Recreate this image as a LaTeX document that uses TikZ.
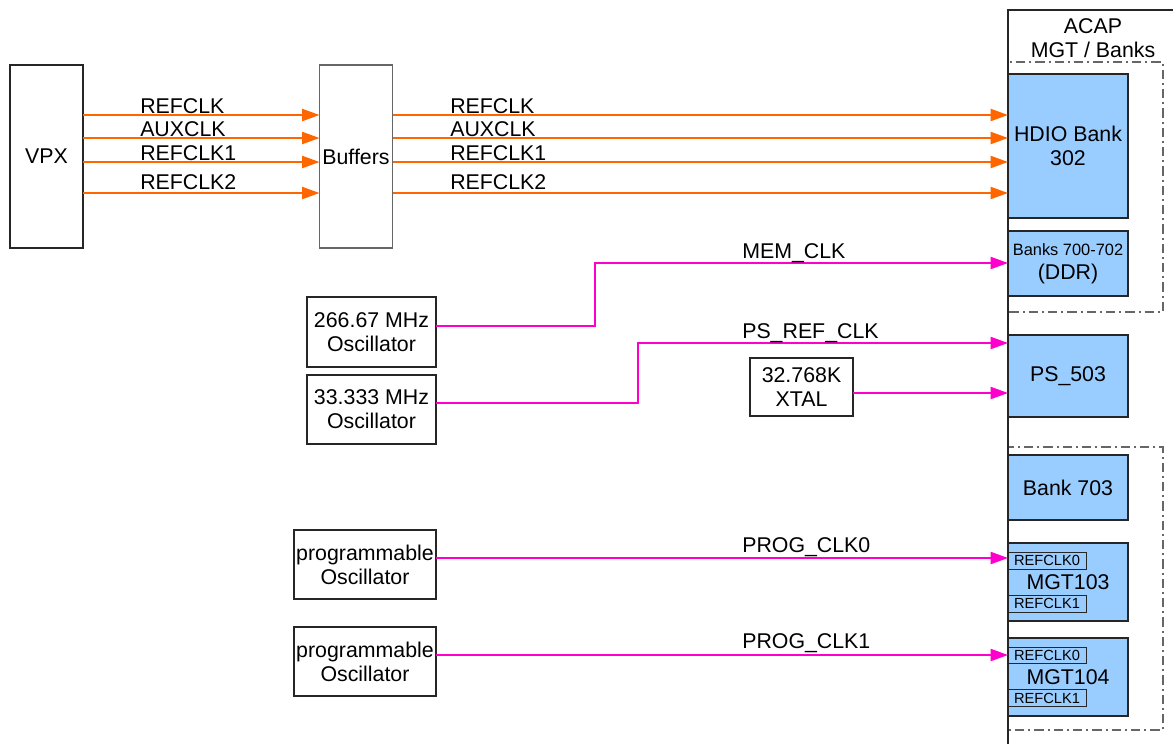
\documentclass[tikz,border=0pt]{standalone}
\usepackage{fontspec}
\setmainfont{Liberation Sans}
\usetikzlibrary{arrows.meta,calc}
\definecolor{org}{RGB}{255,102,0}
\definecolor{pnk}{RGB}{255,0,204}
\definecolor{blu}{RGB}{153,204,255}
\tikzset{
 box/.style={draw=black!85,line width=0.8pt,inner sep=0pt,outer sep=0pt,align=center,font=\fontsize{16}{18}\selectfont},
 bank/.style={box,fill=blu},
 smallbox/.style={draw=black!85,line width=0.7pt,inner sep=0pt,outer sep=0pt,font=\fontsize{11}{12}\selectfont},
 lbl/.style={anchor=base west,inner sep=0pt,font=\fontsize{16}{18}\selectfont},
 osig/.style={draw=org,line width=1.5pt,-{Triangle[length=13pt,width=9pt]}},
 psig/.style={draw=pnk,line width=1.5pt,-{Triangle[length=13pt,width=9pt]}},
 dashbox/.style={draw=black!60,line width=0.8pt,dash pattern=on 7pt off 3pt on 1.5pt off 3pt}
}
\begin{document}
\begin{tikzpicture}[x=0.75pt,y=-0.75pt]
\useasboundingbox (0,0) rectangle (1173,744);

% ACAP frame
\draw[dashbox] (1008,62) rectangle (1163,312);
\draw[dashbox] (1008,447) rectangle (1163,730);
\draw[black!85,line width=0.8pt] (1008,744) -- (1008,10) -- (1173,10);
\node[inner sep=0pt,align=center,font=\fontsize{16}{18}\selectfont] (acap) at (1093,38) {ACAP\\ MGT / Banks};

% left blocks
\node[box,minimum width=54.75pt,minimum height=137.25pt] (vpx) at (46.5,156.5) {VPX};
\node[box,draw=black!60,minimum width=54.75pt,minimum height=137.25pt] (buf) at (356,156.5) {Buffers};

% banks
\node[bank,minimum width=90pt,minimum height=108pt] (hdio) at (1068,146) {HDIO Bank\\302};
\node[bank,minimum width=90pt,minimum height=48.75pt] (ddr) at (1068,263.5) {{\fontsize{12.3}{14}\selectfont Banks 700-702}\\(DDR)};
\node[bank,minimum width=90pt,minimum height=61.5pt] (ps) at (1068,376) {PS\_503};
\node[bank,minimum width=90pt,minimum height=48.75pt] (b703) at (1068,487.5) {Bank 703};
\node[bank,minimum width=90pt,minimum height=58.5pt] (mgta) at (1068,582) {MGT103};
\node[bank,minimum width=90pt,minimum height=58.5pt] (mgtb) at (1068,677) {MGT104};
\node[smallbox,minimum width=58.5pt,minimum height=12.75pt] (ra0) at (1047,560.5) {REFCLK0};
\node[smallbox,minimum width=58.5pt,minimum height=12.75pt] (ra1) at (1047,603.5) {REFCLK1};
\node[smallbox,minimum width=58.5pt,minimum height=12pt] (rb0) at (1047,655) {REFCLK0};
\node[smallbox,minimum width=58.5pt,minimum height=12.75pt] (rb1) at (1047,698) {REFCLK1};

% oscillators
\node[box,minimum width=96.75pt,minimum height=52.5pt] (osca) at (371.5,332) {266.67 MHz\\Oscillator};
\node[box,minimum width=96.75pt,minimum height=51.75pt] (oscb) at (371.5,409.5) {33.333 MHz\\Oscillator};
\node[box,minimum width=77.25pt,minimum height=43.5pt] (xtal) at (801.5,387) {32.768K\\XTAL};
\node[box,minimum width=106.5pt,minimum height=51.75pt] (pga) at (365,564.5) {programmable\\Oscillator};
\node[box,minimum width=106.5pt,minimum height=51.75pt] (pgb) at (365,661.5) {programmable\\Oscillator};

% helper coordinates (rows and columns)
\coordinate (r1) at (0,115);
\coordinate (r2) at (0,138);
\coordinate (r3) at (0,162);
\coordinate (r4) at (0,193);
\coordinate (jm) at (595,263);
\coordinate (jp) at (638,343);
\coordinate (ra) at (0,326);
\coordinate (rb) at (0,403);
\coordinate (rx) at (0,393);
\coordinate (rpa) at (0,558);
\coordinate (rpb) at (0,655);

% orange clocks
\foreach \r in {r1,r2,r3,r4}{
  \draw[osig] (vpx.east |- \r) -- (buf.west |- \r);
  \draw[osig] (buf.east |- \r) -- (hdio.west |- \r);
}
\node[lbl] (l1) at (140,113) {REFCLK};
\node[lbl] (l2) at (140,136) {AUXCLK};
\node[lbl] (l3) at (140,160) {REFCLK1};
\node[lbl] (l4) at (140,189) {REFCLK2};
\node[lbl] (m1) at (450,113) {REFCLK};
\node[lbl] (m2) at (450,136) {AUXCLK};
\node[lbl] (m3) at (450,160) {REFCLK1};
\node[lbl] (m4) at (450,189) {REFCLK2};

% pink clocks
\draw[psig] (osca.east |- ra) -| (jm) -- (ddr.west |- jm);
\draw[psig] (oscb.east |- rb) -| (jp) -- (ps.west |- jp);
\draw[psig] (xtal.east |- rx) -- (ps.west |- rx);
\draw[psig] (pga.east |- rpa) -- (mgta.west |- rpa);
\draw[psig] (pgb.east |- rpb) -- (mgtb.west |- rpb);
\node[lbl] (n1) at (742,258) {MEM\_CLK};
\node[lbl] (n2) at (742,338) {PS\_REF\_CLK};
\node[lbl] (n3) at (742,552) {PROG\_CLK0};
\node[lbl] (n4) at (742,648) {PROG\_CLK1};
\end{tikzpicture}
\end{document}
